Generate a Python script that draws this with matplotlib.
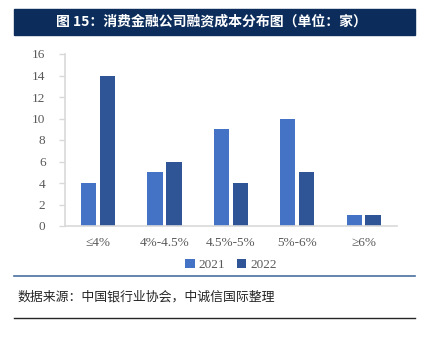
import numpy as np
import matplotlib
matplotlib.use("Agg")
import matplotlib.pyplot as plt
from matplotlib.patches import Rectangle
from matplotlib.lines import Line2D

# financing cost buckets and number of companies
categories = ['≤4%', '4%-4.5%', '4.5%-5%', '5%-6%', '≥6%']
count_2021 = [4, 5, 9, 10, 1]
count_2022 = [14, 6, 4, 5, 1]
series_names = ['2021', '2022']

c2021 = '#4472C4'
c2022 = '#2F5597'
grey = '#595959'

fig = plt.figure(figsize=(4.25, 3.37), dpi=100)
W, H = 425, 337

# title banner
fig.patches.append(Rectangle((14 / W, 1 - 35 / H), 401 / W, 26 / H,
                             transform=fig.transFigure, color='#0C2D5C', zorder=0))
fig.text(211 / W, 1 - 22 / H, '图 15：消费金融公司融资成本分布图（单位：家）',
         color='white', fontsize=10, fontweight='bold', ha='center', va='center',
         family=['Noto Sans CJK SC', 'DejaVu Sans'])

ax = fig.add_axes([65 / W, 1 - 226 / H, 332 / W, 172 / H])
x = np.arange(len(categories))
ax.bar(x - 0.145, count_2021, width=0.23, color=c2021, label=series_names[0])
ax.bar(x + 0.14, count_2022, width=0.23, color=c2022, label=series_names[1])

ax.set_xlim(-0.5, len(categories) - 0.5)
ax.set_ylim(0, 16)
ax.set_yticks(range(0, 17, 2))
ax.set_xticks(x)
ax.set_xticklabels(categories)
for s in ['top', 'right']:
    ax.spines[s].set_visible(False)
for s in ['left', 'bottom']:
    ax.spines[s].set_color('#D9D9D9')
    ax.spines[s].set_linewidth(1.2)
ax.tick_params(axis='y', colors='#D9D9D9', length=4, width=1, labelcolor=grey,
               labelsize=9.5, pad=10)
ax.tick_params(axis='x', length=0, labelcolor=grey, labelsize=9.5, pad=8)
for lab in ax.get_xticklabels() + ax.get_yticklabels():
    lab.set_family(['Liberation Serif', 'DejaVu Serif'])

leg = ax.legend(loc='center', bbox_to_anchor=(0.5, -0.225), ncol=2, frameon=False,
                handlelength=0.7, handleheight=0.7, handletextpad=0.3, columnspacing=0.9,
                prop={'family': 'Liberation Serif', 'size': 9.5})
for t in leg.get_texts():
    t.set_color(grey)

# separator lines and source note
fig.add_artist(Line2D([14 / W, 415 / W], [1 - 275.5 / H] * 2, color='#4A6FA0',
                      linewidth=1.2, transform=fig.transFigure))
fig.text(17 / W, 1 - 297 / H, '数据来源：中国银行业协会，中诚信国际整理',
         color='#262626', fontsize=9.3, ha='left', va='center', style='italic',
         family=['Noto Sans CJK SC', 'DejaVu Sans'])
fig.add_artist(Line2D([14 / W, 415 / W], [1 - 318 / H] * 2, color='#262626',
                      linewidth=1.0, transform=fig.transFigure))

fig.savefig('out.png', dpi=100)
